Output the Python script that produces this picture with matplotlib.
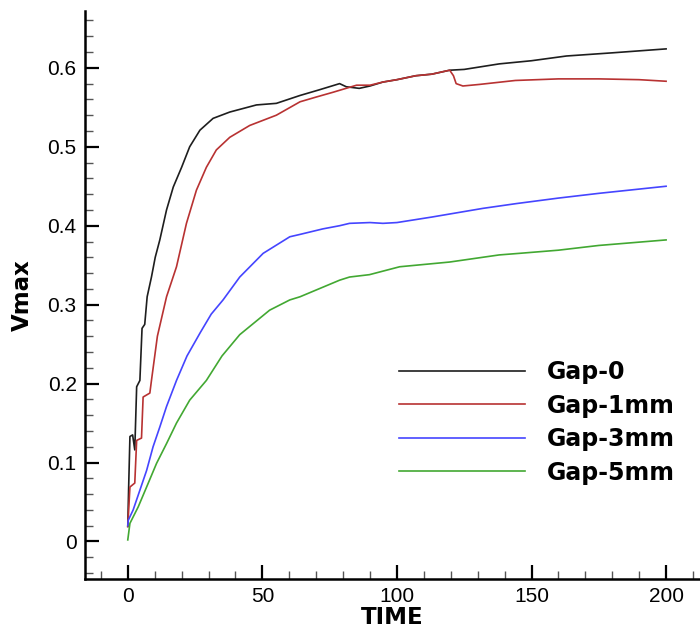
import matplotlib
matplotlib.use('Agg')
import matplotlib.pyplot as plt
from matplotlib.ticker import MultipleLocator

plt.rcParams['font.family'] = ['Liberation Sans', 'DejaVu Sans']

# values
t_gap0 = [0, 0.3, 0.8, 1.8, 2.6, 3.3, 4.5, 5.3, 6.3, 7.2, 8.8, 10.2, 11.9, 14.4, 16.9,
          20, 23, 26.8, 31.7, 37.9, 47.8, 55.2, 64, 71, 78.7, 81.2, 86, 90, 94.8,
          100, 107, 113, 119.6, 125, 138, 150, 163, 180, 200]
v_gap0 = [0.019, 0.065, 0.133, 0.135, 0.116, 0.196, 0.204, 0.27, 0.275, 0.31, 0.335, 0.36, 0.382, 0.42, 0.449,
          0.474, 0.5, 0.521, 0.536, 0.544, 0.553, 0.555, 0.565, 0.572, 0.58, 0.576, 0.574, 0.577, 0.582,
          0.585, 0.59, 0.592, 0.597, 0.598, 0.605, 0.609, 0.615, 0.619, 0.624]

t_gap1 = [0, 0.8, 2.6, 3.3, 5.1, 5.7, 8.2, 8.8, 11, 14.4, 18.1, 21.8, 25.5, 29.2, 32.9,
          37.9, 45.3, 55.2, 64, 70, 76.2, 85, 90, 94.8, 100, 107, 113, 119.6, 121, 122,
          124.5, 130.7, 144, 160, 175, 190, 200]
v_gap1 = [0.019, 0.069, 0.074, 0.128, 0.131, 0.183, 0.188, 0.204, 0.26, 0.31, 0.348, 0.403, 0.445, 0.474, 0.496,
          0.512, 0.527, 0.54, 0.557, 0.563, 0.569, 0.578, 0.578, 0.582, 0.585, 0.59, 0.592, 0.597, 0.59, 0.58,
          0.577, 0.579, 0.584, 0.586, 0.586, 0.585, 0.583]

t_gap3 = [0, 0.2, 2, 4.5, 7, 9.4, 11.9, 14.4, 18.1, 22, 27, 31, 35.4, 41.6, 50.3,
          60.2, 64, 72.5, 78.7, 82.4, 90, 94.8, 100, 113, 132, 144.3, 160, 175, 200]
v_gap3 = [0.02, 0.027, 0.04, 0.065, 0.09, 0.12, 0.145, 0.171, 0.204, 0.235, 0.265, 0.288, 0.306, 0.335, 0.365,
          0.386, 0.389, 0.396, 0.4, 0.403, 0.404, 0.403, 0.404, 0.411, 0.422, 0.428, 0.435, 0.441, 0.45]

t_gap5 = [0, 0.8, 3.9, 7, 10.7, 14.4, 18.1, 23, 29.2, 35, 41.6, 52.7, 60.2, 64,
          78.7, 82.4, 89.8, 101, 119.6, 138, 145.5, 160, 175, 200]
v_gap5 = [0.002, 0.023, 0.044, 0.069, 0.099, 0.124, 0.15, 0.179, 0.204, 0.235, 0.262, 0.293, 0.306, 0.31,
          0.331, 0.335, 0.338, 0.348, 0.354, 0.363, 0.365, 0.369, 0.375, 0.382]

fig = plt.figure(figsize=(7, 6.32), dpi=100)
ax = fig.add_axes([0.1214, 0.0839, 0.8786, 0.8987])

ax.plot(t_gap0, v_gap0, color='#1e1e1e', lw=1.2, label='Gap-0')
ax.plot(t_gap1, v_gap1, color='#b83232', lw=1.2, label='Gap-1mm')
ax.plot(t_gap3, v_gap3, color='#4545ff', lw=1.2, label='Gap-3mm')
ax.plot(t_gap5, v_gap5, color='#42a832', lw=1.2, label='Gap-5mm')

ax.set_xlim(-15.9, 212.6)
ax.set_ylim(-0.0475, 0.672)

ax.spines['top'].set_visible(False)
ax.spines['right'].set_visible(False)
ax.spines['left'].set_linewidth(1.8)
ax.spines['bottom'].set_linewidth(1.8)

ax.xaxis.set_major_locator(MultipleLocator(50))
ax.xaxis.set_minor_locator(MultipleLocator(10))
ax.yaxis.set_major_locator(MultipleLocator(0.1))
ax.yaxis.set_minor_locator(MultipleLocator(0.02))
ax.yaxis.set_major_formatter(plt.FuncFormatter(lambda v, p: '0' if abs(v) < 1e-9 else '%g' % round(v, 2)))

ax.tick_params(which='major', direction='in', length=10, width=1.6, labelsize=15)
ax.tick_params(which='minor', direction='in', length=5.5, width=1.0, color='#555555')
ax.tick_params(axis='x', which='major', pad=6)
ax.tick_params(axis='y', which='major', pad=6)

bold = {'family': ['DejaVu Sans'], 'weight': 'bold'}
ax.set_xlabel('TIME', fontsize=16.5, fontdict=bold, labelpad=0)
ax.set_ylabel('Vmax', fontsize=16.5, fontdict=bold, labelpad=10)

leg = ax.legend(loc='upper left', bbox_to_anchor=(0.5106, 0.385), frameon=False,
                borderpad=0, borderaxespad=0, handlelength=5.35, handletextpad=0.93,
                labelspacing=0.4, prop={'family': ['DejaVu Sans'], 'size': 17, 'weight': 'bold'})

fig.savefig('out.png', dpi=100)
